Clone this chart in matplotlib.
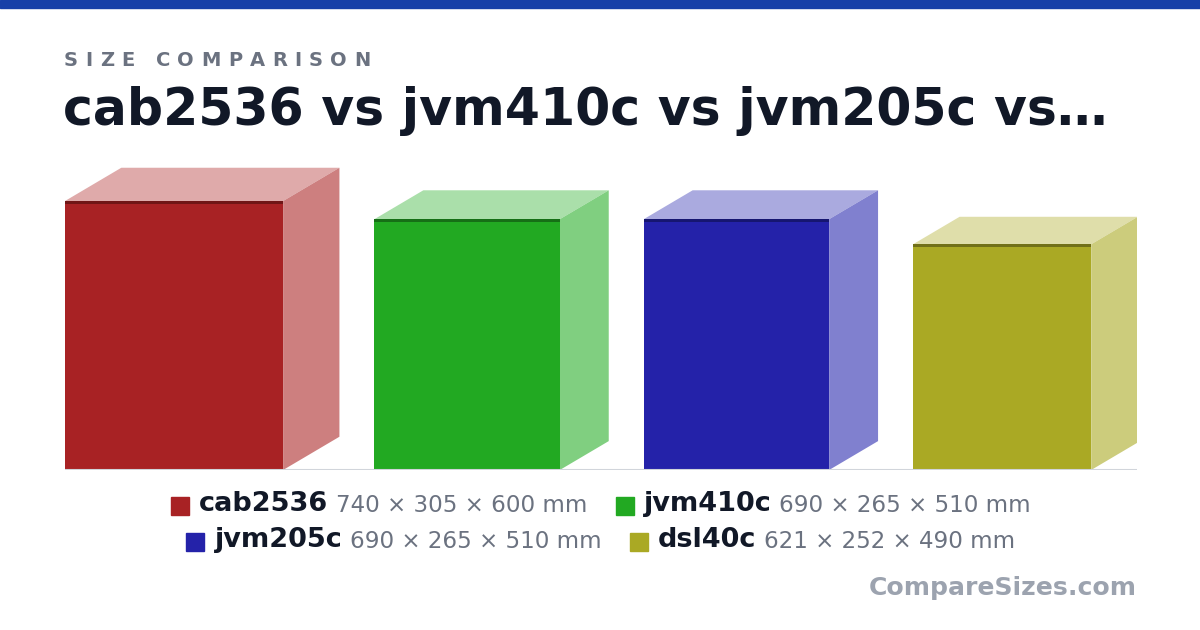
import matplotlib
matplotlib.use("Agg")
import matplotlib.pyplot as plt
from matplotlib.patches import Polygon, Rectangle

# data (mm)
names = ["cab2536", "jvm410c", "jvm205c", "dsl40c"]
widths = [740, 690, 690, 621]
depths = [305, 265, 265, 252]
heights = [600, 510, 510, 490]

front_cols = ["#A82224", "#22A922", "#2422A9", "#AAA924"]
side_cols = ["#CD7F7F", "#80CF80", "#8080CF", "#CCCC7C"]
top_cols = ["#DFAAAA", "#AADFAA", "#AAAADF", "#DFDEAA"]
edge_cols = ["#701616", "#166F16", "#161670", "#717018"]

W, H = 1200, 630
fig = plt.figure(figsize=(12, 6.3), dpi=100)
fig.patch.set_facecolor("white")

def fx(x):
    return x / W

def fy(y):
    return 1 - y / H

# top stripe
fig.patches.append(Rectangle((0, fy(8)), 1, 8 / H, transform=fig.transFigure,
                             color="#1740A8", zorder=5))

# chart area, mm units, px per mm
s = 0.3635
left_px, right_px, base_px, top_px = 65, 1137, 470, 150
ax = fig.add_axes([fx(left_px), fy(base_px), (right_px - left_px) / W, (base_px - top_px) / H])
ax.set_xlim(0, (right_px - left_px) / s)
ax.set_ylim(0, (base_px - top_px) / s)
ax.axis("off")

gap = 35 / s
x = 0
for i in range(len(names)):
    fw = heights[i]   # front face width
    fh = widths[i]    # front face height
    dx = 0.508 * depths[i]
    dy = 0.3 * depths[i]
    x0, x1 = x, x + fw
    ax.add_patch(Polygon([(x0, fh), (x0 + dx, fh + dy), (x1 + dx, fh + dy), (x1, fh)],
                         closed=True, facecolor=top_cols[i], edgecolor="none"))
    ax.add_patch(Polygon([(x1, 0), (x1 + dx, dy), (x1 + dx, fh + dy), (x1, fh)],
                         closed=True, facecolor=side_cols[i], edgecolor="none"))
    ax.add_patch(Rectangle((x0, 0), fw, fh, facecolor=front_cols[i], edgecolor="none"))
    ax.add_patch(Rectangle((x0, fh - 3 / s), fw, 3 / s, facecolor=edge_cols[i], edgecolor="none"))
    x = x1 + dx + gap

ax.plot([0, (right_px - left_px) / s], [0, 0], color="#D1D5DB", lw=1.5, solid_capstyle="butt")

renderer = fig.canvas.get_renderer()

def text_w(t):
    return t.get_window_extent(renderer).width

# spaced subtitle
cx = 64
for ch in "SIZE COMPARISON":
    t = fig.text(fx(cx), fy(66), ch, fontsize=14, fontweight="bold", color="#6B7280",
                 ha="left", va="baseline")
    cx += (text_w(t) if ch != " " else 6) + 7.4

fig.text(fx(63), fy(125), "cab2536 vs jvm410c vs jvm205c vs\u2026", fontsize=36.4,
         fontweight="bold", color="#111827", ha="left", va="baseline")

# legend rows
rows = [[0, 1], [2, 3]]
row_y = [504, 540]
for r, idxs in enumerate(rows):
    items = []
    total = 0
    for k, i in enumerate(idxs):
        dims = f"{widths[i]} \u00d7 {depths[i]} \u00d7 {heights[i]} mm"
        tn = fig.text(0, 0, names[i], fontsize=19.5, fontweight="bold")
        td = fig.text(0, 0, dims, fontsize=16.6)
        wn, wd = text_w(tn), text_w(td)
        tn.remove()
        td.remove()
        items.append((i, dims, wn, wd))
        total += 18 + 10 + wn + 8 + wd
        if k > 0:
            total += 28
    cx = 601 - total / 2
    y = row_y[r]
    for k, (i, dims, wn, wd) in enumerate(items):
        if k > 0:
            cx += 28
        fig.patches.append(Rectangle((fx(cx), fy(y + 11)), 18 / W, 18 / H,
                                     transform=fig.transFigure, color=front_cols[i]))
        cx += 28
        fig.text(fx(cx), fy(y), names[i], fontsize=19.5, fontweight="bold", color="#111827",
                 ha="left", va="center")
        cx += wn + 8
        fig.text(fx(cx), fy(y + 1), dims, fontsize=16.6, color="#6B7280",
                 ha="left", va="center")
        cx += wd

fig.text(fx(1137), fy(588), "CompareSizes.com", fontsize=18.1, fontweight="bold",
         color="#9CA3AF", ha="right", va="center")

fig.savefig("out.png", dpi=100, facecolor="white")
